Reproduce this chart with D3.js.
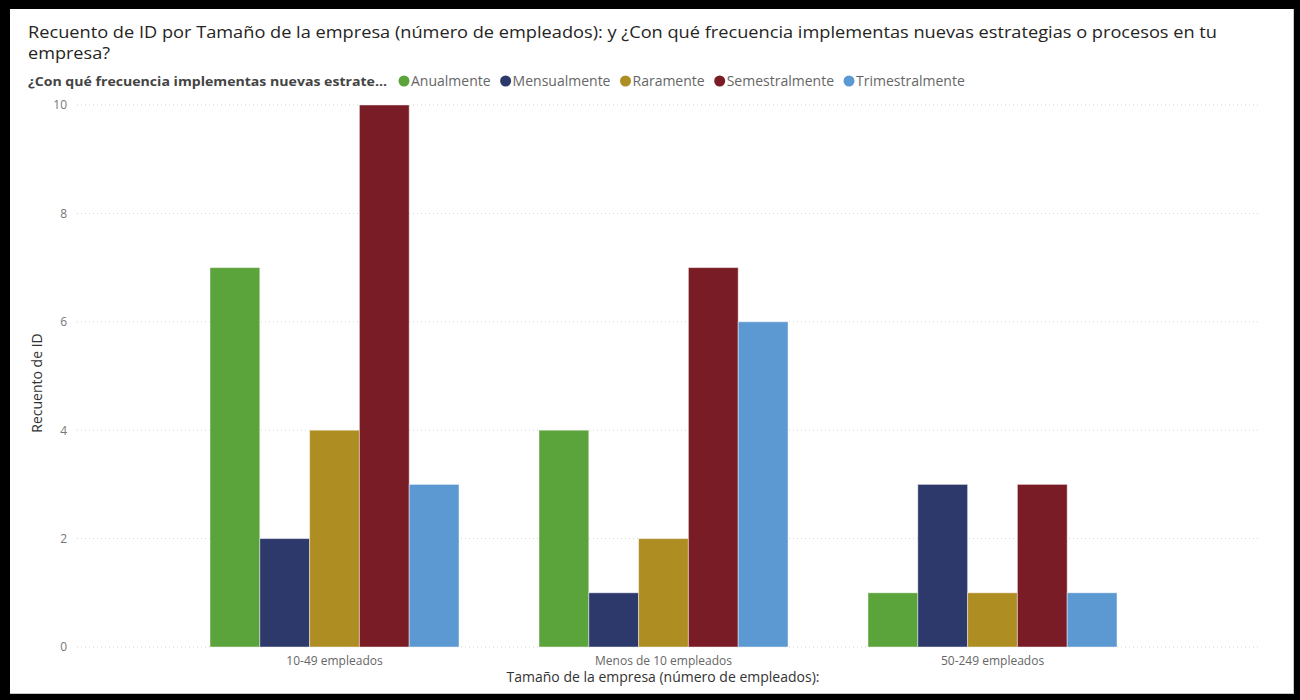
<!DOCTYPE html>
<html>
<head>
<meta charset="utf-8">
<script src="https://cdn.jsdelivr.net/npm/d3@7"></script>
<style>
  html, body { margin: 0; padding: 0; background: #000; }
  svg { display: block; }
</style>
</head>
<body>
<svg id="chart" width="1300" height="700"></svg>
<script>
// Company-size categories and answer series (counts of IDs)
const categories = ["10-49 empleados", "Menos de 10 empleados", "50-249 empleados"];
const seriesNames = ["Anualmente", "Mensualmente", "Raramente", "Semestralmente", "Trimestralmente"];
const anualmente      = [7, 4, 1];
const mensualmente    = [2, 1, 3];
const raramente       = [4, 2, 1];
const semestralmente  = [10, 7, 3];
const trimestralmente = [3, 6, 1];
const seriesColors = ["#5BA33B", "#2D386B", "#AE8D22", "#7A1C25", "#5C98D2"];
const yTicks = [0, 2, 4, 6, 8, 10];

const titleText = "Recuento de ID por Tamaño de la empresa (número de empleados): y ¿Con qué frecuencia implementas nuevas estrategias o procesos en tu";
const titleText2 = "empresa?";
const legendTitle = "¿Con qué frecuencia implementas nuevas estrate...";
const yTitle = "Recuento de ID";
const xTitle = "Tamaño de la empresa (número de empleados):";

const values = [anualmente, mensualmente, raramente, semestralmente, trimestralmente];
const table = categories.map((c, i) => ({
  category: c,
  bars: seriesNames.map((s, j) => ({ series: s, value: values[j][i] }))
}));

const svg = d3.select("#chart");
const font = "'Open Sans', 'Noto Sans', sans-serif";

// black frame with white card
svg.append("rect").attr("x", 0).attr("y", 0).attr("width", 1300).attr("height", 700).attr("fill", "#000");
svg.append("rect").attr("x", 10).attr("y", 9).attr("width", 1284).attr("height", 685).attr("fill", "#c8c8c8");
svg.append("rect").attr("x", 10).attr("y", 9).attr("width", 1283).attr("height", 684).attr("fill", "#fff");

// scales
const x0 = d3.scaleBand().domain(categories).range([170, 1157]).paddingInner(0.2432).paddingOuter(0.1216);
const x1 = d3.scaleBand().domain(seriesNames).range([0, x0.bandwidth()]);
const y = d3.scaleLinear().domain([0, 10]).range([647, 105]);
const color = d3.scaleOrdinal().domain(seriesNames).range(seriesColors);

// y axis labels
const yAxis = d3.axisLeft(y).tickValues(yTicks).tickSize(0).tickPadding(0);
const gy = svg.append("g").attr("transform", "translate(67,0)").call(yAxis);
gy.select(".domain").remove();
gy.selectAll("text").attr("font-family", font).attr("font-size", 12).attr("fill", "#777");

// dotted gridlines
svg.append("g").selectAll("line").data(yTicks).join("line")
  .attr("x1", 77).attr("x2", 1259)
  .attr("y1", d => y(d)).attr("y2", d => y(d))
  .attr("stroke", "#d4d4d4").attr("stroke-width", 1).attr("stroke-dasharray", "1,3");

// clustered bars
const groups = svg.append("g").selectAll("g").data(table).join("g")
  .attr("transform", d => `translate(${x0(d.category)},0)`);
groups.selectAll("rect").data(d => d.bars).join("rect")
  .attr("x", d => x1(d.series))
  .attr("y", d => y(d.value))
  .attr("width", x1.bandwidth())
  .attr("height", d => y(0) - y(d.value))
  .attr("fill", d => color(d.series))
  .attr("stroke", "rgba(255,255,255,0.45)")
  .attr("stroke-width", 1);

// x axis labels
const xAxis = d3.axisBottom(x0).tickSize(0).tickPadding(0);
const gx = svg.append("g").attr("transform", "translate(0,665)").call(xAxis);
gx.select(".domain").remove();
gx.selectAll("text").attr("font-family", font).attr("font-size", 12).attr("fill", "#666").attr("dy", 0);

// axis titles
svg.append("text").attr("x", 663).attr("y", 682).attr("text-anchor", "middle")
  .attr("font-family", font).attr("font-size", 14).attr("fill", "#333").text(xTitle);
svg.append("text").attr("transform", "translate(42,383) rotate(-90)").attr("text-anchor", "middle")
  .attr("font-family", font).attr("font-size", 14).attr("fill", "#333").text(yTitle);

// chart title (two lines)
svg.append("text").attr("x", 28).attr("y", 38)
  .attr("font-family", font).attr("font-size", 17).attr("fill", "#252423").text(titleText)
  .attr("textLength", 1189).attr("lengthAdjust", "spacingAndGlyphs");
svg.append("text").attr("x", 28).attr("y", 59)
  .attr("font-family", font).attr("font-size", 17).attr("fill", "#252423").text(titleText2)
  .attr("textLength", 82).attr("lengthAdjust", "spacingAndGlyphs");

// legend
const legY = 81;
svg.append("text").attr("x", 28).attr("y", legY + 5)
  .attr("font-family", font).attr("font-size", 13).attr("font-weight", "bold").attr("fill", "#444")
  .text(legendTitle).attr("textLength", 359).attr("lengthAdjust", "spacingAndGlyphs");
let lx = 398;
seriesNames.forEach((s, i) => {
  svg.append("circle").attr("cx", lx + 6).attr("cy", legY).attr("r", 5.5).attr("fill", seriesColors[i]);
  const tx = svg.append("text").attr("x", lx + 13).attr("y", legY + 5)
    .attr("font-family", font).attr("font-size", 14).attr("fill", "#666").text(s);
  const w = tx.node().getComputedTextLength();
  lx = lx + 13 + w + 9;
});
</script>
</body>
</html>
